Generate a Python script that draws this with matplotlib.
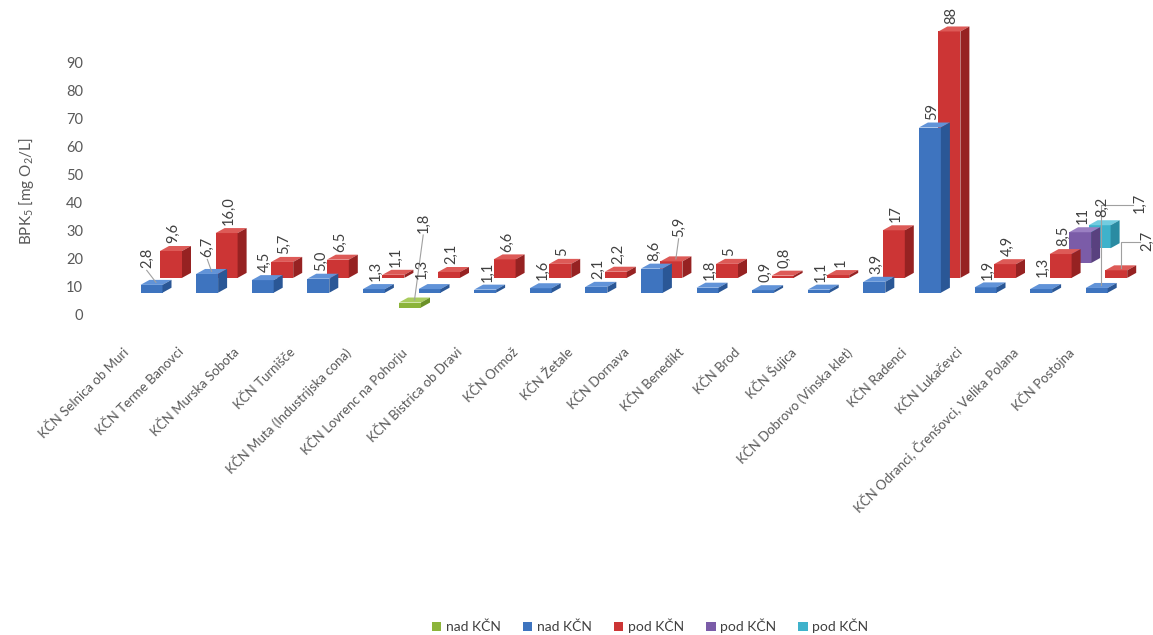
import matplotlib
matplotlib.use("Agg")
import matplotlib.pyplot as plt
import numpy as np
from matplotlib.patches import Patch

plt.rcParams['font.family'] = ['Lato', 'DejaVu Sans']
plt.rcParams['mathtext.fontset'] = 'custom'
plt.rcParams['mathtext.rm'] = 'Lato'
plt.rcParams['mathtext.it'] = 'Lato'

# ---------------- data ----------------
categories = [
    "KČN Selnica ob Muri", "KČN Terme Banovci", "KČN Murska Sobota", "KČN Turnišče",
    "KČN Muta (Industrijska cona)", "KČN Lovrenc na Pohorju", "KČN Bistrica ob Dravi",
    "KČN Ormož", "KČN Žetale", "KČN Dornava", "KČN Benedikt", "KČN Brod", "KČN Šujica",
    "KČN Dobrovo (Vinska klet)", "KČN Radenci", "KČN Lukačevci",
    "KČN Odranci, Črenšovci, Velika Polana", "KČN Postojna",
]
nan = np.nan
green_vals = [nan, nan, nan, nan, nan, 1.8, nan, nan, nan, nan, nan, nan, nan, nan, nan, nan, nan, nan]
blue_vals = [2.8, 6.7, 4.5, 5.0, 1.3, 1.3, 1.1, 1.6, 2.1, 8.6, 1.8, 0.9, 1.1, 3.9, 59, 1.9, 1.3, 1.7]
red_vals = [9.6, 16.0, 5.7, 6.5, 1.1, 2.1, 6.6, 5, 2.2, 5.9, 5, 0.8, 1, 17, 88, 4.9, 8.5, 2.7]
purple_vals = [nan] * 16 + [11, nan]
cyan_vals = [nan] * 16 + [8.2, nan]

green_labels = [""] * 5 + ["1,8"] + [""] * 12
blue_labels = ["2,8", "6,7", "4,5", "5,0", "1,3", "1,3", "1,1", "1,6", "2,1", "8,6",
               "1,8", "0,9", "1,1", "3,9", "59", "1,9", "1,3", "1,7"]
red_labels = ["9,6", "16,0", "5,7", "6,5", "1,1", "2,1", "6,6", "5", "2,2", "5,9",
              "5", "0,8", "1", "17", "88", "4,9", "8,5", "2,7"]
purple_labels = [""] * 16 + ["11", ""]
cyan_labels = [""] * 16 + ["8,2", ""]

series_names = ["nad KČN", "nad KČN", "pod KČN", "pod KČN", "pod KČN"]
yticks = [0, 10, 20, 30, 40, 50, 60, 70, 80, 90]

# ---------------- styling / layout ----------------
W, H = 1153, 635
PX_X = 55.6      # pixels per category
PX_Y = 2.8       # pixels per value unit
X0 = 132         # pixel x of first category (front row)
Y0 = 314         # pixel y of value 0
LEFT = 90

face = ['#8cb43a', '#3e74bf', '#cc3535', '#7b5ca8', '#3fb2cb']
top_c = ['#a9cc5e', '#6193d8', '#dd5a57', '#9a7fc2', '#72cce0']
side_c = ['#6b9128', '#2a5796', '#962222', '#59417f', '#2a8ba2']

row_dx = 19.5 / PX_X
row_dy = 5.3
floor0 = 2.3
bar_w = 22 / PX_X
d_dx = 9 / PX_X
d_dy = 5 / PX_Y

fig = plt.figure(figsize=(W / 100, H / 100), dpi=100)
ax = fig.add_axes([LEFT / W, (H - Y0) / H, 1 - LEFT / W, Y0 / H])
ax.set_xlim((LEFT - X0) / PX_X, (W - X0) / PX_X)
ax.set_ylim(0, Y0 / PX_Y)
for s in ax.spines.values():
    s.set_visible(False)
ax.set_xticks([])
ax.set_yticks(yticks)
ax.tick_params(axis='y', length=0, pad=5, labelsize=10.5, labelcolor='#595959')

rows = [green_vals, blue_vals, red_vals, purple_vals, cyan_vals]
row_labels = [green_labels, blue_labels, red_labels, purple_labels, cyan_labels]
xs = np.arange(len(categories))

# label adjustments in pixels (dx, dy up) and whether a leader line is drawn
label_adjust = {
    (1, 0): (-7, 9, 'line'),
    (1, 1): (-2, 9, 'line'),
    (0, 5): (11, 62, 'line'),
    (1, 5): (-10, 2, None),
    (2, 9): (5, 17, 'line'),
    (1, 16): (-1, 4, None),
    (1, 17): (41, 67, 'elbow'),
    (2, 17): (29, 12, 'elbow'),
}

# draw from back row to front row
for k in range(4, -1, -1):
    vals = np.array(rows[k], dtype=float)
    fl = floor0 + row_dy * k
    cx = xs + row_dx * k
    ax.bar(cx, vals, width=bar_w, bottom=fl, color=face[k], edgecolor='none', zorder=10 - k)
    for i in range(len(categories)):
        h = vals[i]
        if np.isnan(h):
            continue
        c = cx[i]
        l, r = c - bar_w / 2, c + bar_w / 2
        t = fl + h
        ax.fill([l, r, r + d_dx, l + d_dx], [t, t, t + d_dy, t + d_dy],
                color=top_c[k], lw=0, zorder=10 - k)
        ax.fill([r, r + d_dx, r + d_dx, r], [fl, fl + d_dy, t + d_dy, t],
                color=side_c[k], lw=0, zorder=10 - k)
        txt = row_labels[k][i]
        lx, ly = c + 0.04, t + d_dy + 1.0
        adj = label_adjust.get((k, i))
        if adj:
            ddx, ddy, kind = adj
            nx, ny = lx + ddx / PX_X, ly + ddy / PX_Y
            if kind == 'line':
                ax.plot([nx, c + d_dx / 2], [ny - 0.8, t + d_dy / 2], color='#a0a0a0',
                        lw=0.8, zorder=20)
            elif kind == 'elbow':
                ex = c + d_dx / 2
                ym = ny + 3.0
                ax.plot([nx - 7 / PX_X, ex, ex], [ym, ym, t + d_dy / 2], color='#a0a0a0',
                        lw=0.8, zorder=20)
            lx, ly = nx, ny
        ax.text(lx, ly, txt, rotation=90, ha='center', va='bottom', fontsize=10.5,
                color='#404040', zorder=30)

# category labels
for i, name in enumerate(categories):
    ax.text(xs[i] - 0.1, -0.114, name, transform=ax.get_xaxis_transform(),
            rotation=45, rotation_mode='anchor', ha='right', va='center',
            fontsize=9.5, color='#595959')

fig.text(26 / W, 1 - 191 / H, r'BPK$_\mathregular{5}$ [mg O$_\mathregular{2}$/L]',
         rotation=90, ha='center', va='center', fontsize=11, color='#595959')

handles = [Patch(facecolor=face[k], edgecolor='none') for k in range(5)]
fig.legend(handles, series_names, loc='center', bbox_to_anchor=(650 / W, 1 - 626 / H),
           ncol=5, frameon=False, fontsize=10, handlelength=0.7, handleheight=0.7,
           handletextpad=0.3, columnspacing=1.6, labelcolor='#404040')

fig.savefig("out.png", dpi=100)
